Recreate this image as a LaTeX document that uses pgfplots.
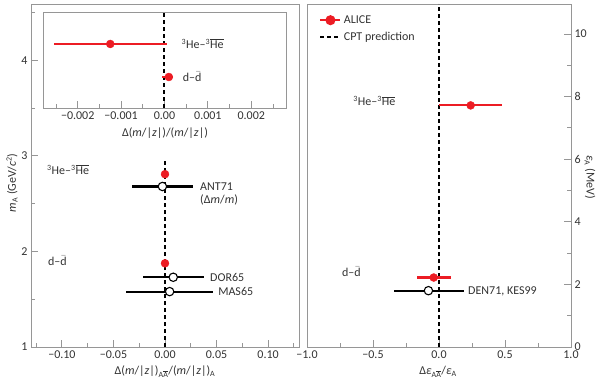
\documentclass[border=0pt]{standalone}
\usepackage{pgfplots}
\pgfplotsset{compat=1.18}
\usepackage{fontspec}
\setmainfont{Carlito}
\definecolor{alice}{RGB}{236,28,36}
\definecolor{axgray}{RGB}{150,150,150}
\definecolor{txt}{RGB}{50,50,50}
\newcommand{\HeHe}{\textsuperscript{3}He–\textsuperscript{3}$\overline{\hbox{He}}$}
\newcommand{\dd}{d–$\bar{\hbox{d}}$}
\pgfplotsset{
  panel/.style={
    scale only axis,
    anchor=south west,
    axis line style={axgray, line width=0.9pt},
    every tick/.style={axgray, line width=0.9pt},
    tick align=inside,
    major tick length=7pt,
    minor tick length=4pt,
    ticklabel style={font=\fontsize{12}{14}\selectfont, text=txt},
    clip=false,
  },
  alicepts/.style={only marks, mark=*, mark size=4pt, color=alice,
    mark options={fill=alice, draw=alice},
    error bars/.cd, x dir=both, x explicit,
    error bar style={line width=2.1pt, alice}, error mark=none},
  oldpts/.style={only marks, mark=*, mark size=4.2pt,
    mark options={fill=white, draw=black, line width=1.1pt},
    error bars/.cd, x dir=both, x explicit,
    error bar style={line width=2.1pt, black}, error mark=none},
  cpt/.style={black, line width=2pt, dash pattern=on 4pt off 3pt},
}
\begin{document}
\begin{tikzpicture}
\useasboundingbox (0,0) rectangle (600pt,381pt);
\tikzset{lbl/.style={font=\fontsize{12}{14}\selectfont, text=txt, inner sep=0pt}}
% ---------------- left main panel
\begin{axis}[panel, at={(31pt,34pt)}, width=268pt, height=343pt,
  xmin=-0.13, xmax=0.13, ymin=1, ymax=4.59,
  xtick={-0.1,-0.05,0,0.05,0.1},
  xticklabels={−0.10,−0.05,0.00,0.05,0.10},
  minor xtick={-0.125,-0.075,-0.025,0.025,0.075,0.125},
  ytick={1,2,3,4}, yticklabels={1,2,3,4},
  minor ytick={1.5,2.5,3.5,4.5},
  xtick pos=bottom, ytick pos=left]
\addplot[cpt] coordinates {(0,1) (0,2.96)};
\addplot[oldpts] coordinates {(-0.0025,2.68) +- (0.0295,0)};
\addplot[oldpts] coordinates {(0.008,1.73) +- (0.0295,0)};
\addplot[oldpts] coordinates {(0.0045,1.58) +- (0.0425,0)};
\addplot[alicepts] coordinates {(0,2.809) +- (0.0001,0) (0,1.876) +- (0.0001,0)};
\node[lbl, anchor=west] at (axis cs:-0.1146,2.854) {\HeHe};
\node[lbl, anchor=west] at (axis cs:-0.1136,1.906) {\dd};
\node[lbl, anchor=west] at (axis cs:0.034,2.68) {ANT71};
\node[lbl, anchor=west] at (axis cs:0.034,2.535) {(Δ\textit{m}/\textit{m})};
\node[lbl, anchor=west] at (axis cs:0.0437,1.73) {DOR65};
\node[lbl, anchor=west] at (axis cs:0.0515,1.58) {MAS65};
\end{axis}
% ---------------- inset
\begin{axis}[panel, at={(43pt,273pt)}, width=243pt, height=96pt,
  axis background/.style={fill=white},
  xmin=-0.0028, xmax=0.0028, ymin=0, ymax=1,
  xtick={-0.002,-0.001,0,0.001,0.002},
  xticklabels={−0.002,−0.001,0.00,0.001,0.002},
  minor xtick={-0.0025,-0.0015,-0.0005,0.0005,0.0015,0.0025},
  ytick=\empty, xtick pos=bottom,
  scaled x ticks=false]
\addplot[cpt] coordinates {(0,0) (0,1)};
\addplot[alicepts] coordinates {(-0.00125,0.667) += (0.0013,0) -= (0.00129,0)};
\addplot[alicepts] coordinates {(0.0001,0.323) += (0.0001,0) -= (0.00015,0)};
\node[lbl, anchor=west] at (axis cs:0.00039,0.667) {\HeHe};
\node[lbl, anchor=west] at (axis cs:0.00042,0.323) {\dd};
\end{axis}
\node[lbl] at (165pt,248pt) {Δ(\textit{m}/|\textit{z}|)/(\textit{m}/|\textit{z}|)};
% ---------------- right panel
\begin{axis}[panel, at={(307pt,34pt)}, width=264pt, height=343pt,
  xmin=-1, xmax=1, ymin=0, ymax=10.96,
  xtick={-1,-0.5,0,0.5,1},
  xticklabels={−1.0,−0.5,0.0,0.5,1.0},
  minor xtick={-0.75,-0.25,0.25,0.75},
  ytick={0,2,4,6,8,10}, yticklabels={0,2,4,6,8,10},
  minor ytick={1,3,5,7,9},
  xtick pos=bottom, ytick pos=right, yticklabel pos=right,
  legend style={at={(0.035,0.98)}, anchor=north west, draw=none, fill=none,
    font=\fontsize{12}{14}\selectfont, text=txt, row sep=2pt,
    nodes={inner sep=2.5pt}},
  legend cell align=left,
  legend image code/.code={\draw[mark repeat=2,mark phase=2,#1] plot coordinates {(0pt,0pt) (10pt,0pt) (20pt,0pt)};}]
\addlegendimage{alice, line width=2pt, mark=*, mark size=4pt, mark options={fill=alice}}
\addlegendentry{ALICE}
\addlegendimage{black, line width=2pt, dash pattern=on 4pt off 3pt}
\addlegendentry{CPT prediction}
\addplot[forget plot, cpt] coordinates {(0,0) (0,10.96)};
\addplot[forget plot, oldpts] coordinates {(-0.08,1.8) += (0.27,0) -= (0.26,0)};
\addplot[forget plot, alicepts] coordinates {(0.24,7.72) +- (0.24,0) (-0.04,2.22) +- (0.13,0)};
\node[lbl, anchor=west] at (axis cs:-0.65,7.86) {\HeHe};
\node[lbl, anchor=west] at (axis cs:-0.735,2.40) {\dd};
\node[lbl, anchor=west] at (axis cs:0.22,1.79) {DEN71, KES99};
\end{axis}
% ---------------- axis titles
\node[lbl] at (165pt,9pt) {Δ(\textit{m}/|\textit{z}|)\textsubscript{A$\overline{\hbox{A}}$}/(\textit{m}/|\textit{z}|)\textsubscript{A}};
\node[lbl] at (438pt,9pt) {Δ\textit{ε}\textsubscript{A$\overline{\hbox{A}}$}/\textit{ε}\textsubscript{A}};
\node[lbl, rotate=90] at (12pt,198pt) {\textit{m}\textsubscript{A} (GeV/\textit{c}\textsuperscript{2})};
\node[lbl, rotate=-90] at (590pt,204pt) {\textit{ε}\textsubscript{A} (MeV)};
\end{tikzpicture}
\end{document}
